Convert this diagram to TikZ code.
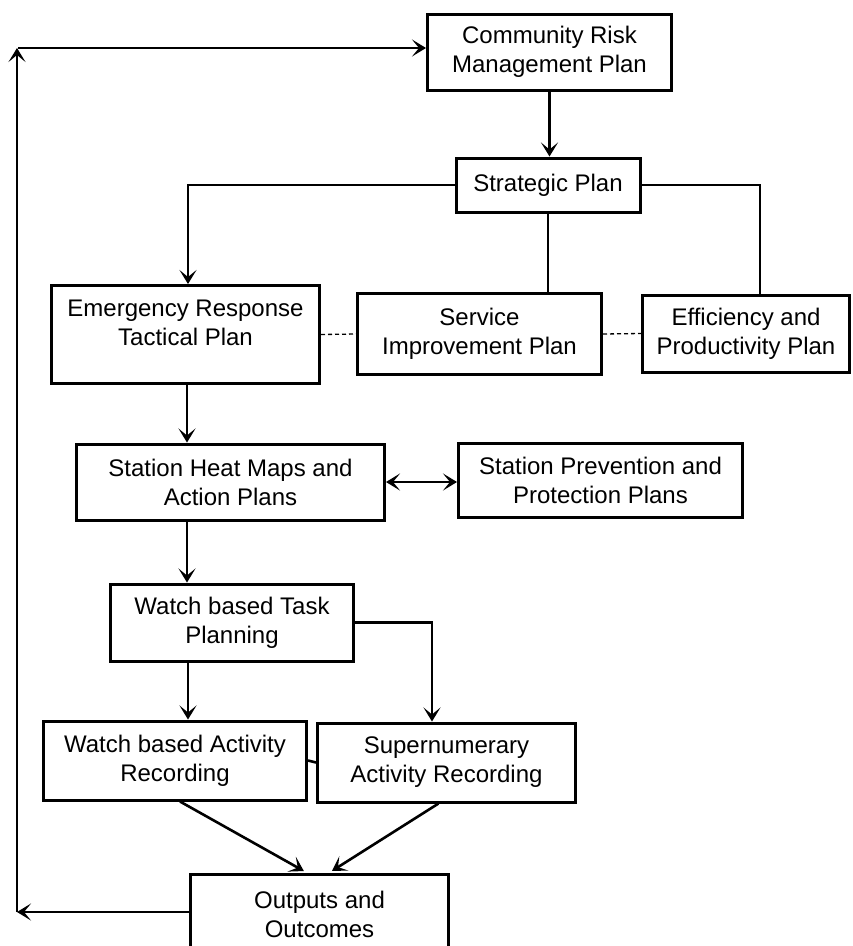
\documentclass[tikz,border=0pt]{standalone}
\usepackage{fontspec}
\setmainfont{Liberation Sans}
\usetikzlibrary{arrows.meta}
\begin{document}
\begin{tikzpicture}[x=1pt,y=-1pt,
  box/.style={draw, line width=3pt, inner sep=0pt, align=center,
    font=\fontsize{24}{29}\selectfont},
  conn/.style={line width=2.6pt},
  arr/.style={conn, -{Stealth[length=14pt,width=17pt,inset=7pt]}},
  darr/.style={conn, {Stealth[length=14pt,width=17pt,inset=7pt]}-{Stealth[length=14pt,width=17pt,inset=7pt]}},
  dashline/.style={line width=1.3pt, dash pattern=on 4pt off 3pt}]
\useasboundingbox (0,0) rectangle (853,946);
\clip (0,0) rectangle (853,946);

\node[box, minimum width=244, minimum height=76] (crmp) at (549.5,52) {Community Risk\\Management Plan};
\node[box, minimum width=184, minimum height=54] (sp) at (548,185) {Strategic Plan};
\node[box, minimum width=268, minimum height=98] (ertp) at (185.5,334.5) {Emergency Response\\Tactical Plan\\[-6pt]\mbox{}};
\node[box, minimum width=244, minimum height=81] (sip) at (479.5,334) {Service\\Improvement Plan};
\node[box, minimum width=207, minimum height=77] (epp) at (746,333.5) {Efficiency and\\Productivity Plan};
\node[box, minimum width=308, minimum height=76] (shmap) at (230.5,482) {Station Heat Maps and\\Action Plans};
\node[box, minimum width=284, minimum height=74] (sppp) at (600.5,480) {Station Prevention and\\Protection Plans};
\node[box, minimum width=243, minimum height=77] (wtp) at (232,622.5) {Watch based Task\\Planning};
\node[box, minimum width=263, minimum height=79] (war) at (175,760.5) {Watch based Activity\\Recording};
\node[box, minimum width=258, minimum height=79] (sar) at (446.5,762.5) {Supernumerary\\Activity Recording};
\node[box, minimum width=258, minimum height=80] (oo) at (319.5,914) {Outputs and\\Outcomes};

\coordinate (xA) at (187,0);
\coordinate (xB) at (432,0);
\coordinate (xC) at (760,0);
\coordinate (xD) at (188,0);
\coordinate (bl) at (17,912);
\coordinate (tl) at (17,48);

% top
\draw[arr] (crmp.south) -- (crmp.south |- sp.north);
\draw[arr] (sp.west) -| (xD |- ertp.north);
\draw[conn] (sp.south) -- (sp.south |- sip.north);
\draw[conn] (sp.east) -| (xC |- epp.north);
\draw[dashline] (ertp.east) -- (sip.west);
\draw[dashline] (sip.east) -- (epp.west);

% middle
\draw[arr] (ertp.south -| xA) -- (xA |- shmap.north);
\draw[darr] (shmap.east) -- (shmap.east -| sppp.west);
\draw[arr] (xA |- shmap.south) -- (xA |- wtp.north);
\draw[arr] (xD |- wtp.south) -- (xD |- war.north);
\draw[arr] (wtp.east) -| (xB |- sar.north);
\draw[conn] (war.east) -- (sar.west);

% bottom
\draw[arr, shorten >=3pt] ([xshift=5pt]war.south) -- ([xshift=-13pt]oo.north);
\draw[arr, shorten >=3pt] ([xshift=-8pt]sar.south) -- ([xshift=10pt]oo.north);

% feedback loop
\draw[arr] (oo.west |- bl) -- (bl);
\draw[arr] (bl) -- (tl);
\draw[arr] ([xshift=1pt]tl) -- (tl -| crmp.west);
\end{tikzpicture}
\end{document}
